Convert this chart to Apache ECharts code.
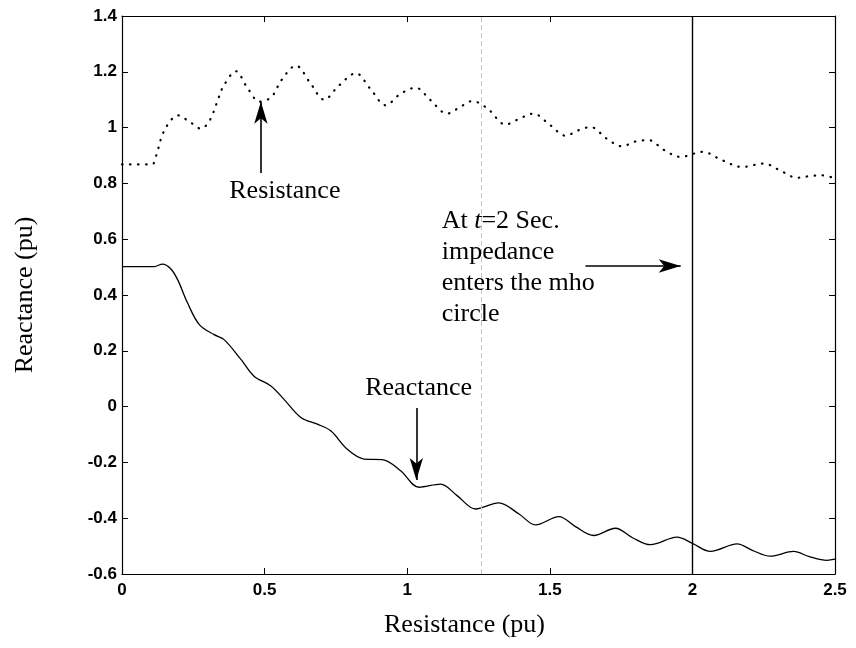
<!DOCTYPE html>
<html>
<head>
<meta charset="utf-8">
<script src="https://cdn.jsdelivr.net/npm/echarts@6/dist/echarts.min.js"></script>
<style>html,body{margin:0;padding:0;background:#fff}#c{width:856px;height:648px}</style>
</head>
<body>
<div id="c"></div>
<script>
// Dotted curve (upper trace)
const resistanceCurve = [
  [0,0.868],[0.05,0.868],[0.105,0.868],[0.12,0.90],[0.139,0.967],[0.16,1.01],[0.195,1.044],[0.238,1.02],
  [0.277,0.996],[0.308,1.027],[0.332,1.087],[0.355,1.147],[0.40,1.202],[0.437,1.147],[0.483,1.093],
  [0.524,1.11],[0.559,1.17],[0.61,1.222],[0.66,1.16],[0.709,1.10],[0.76,1.15],[0.82,1.195],[0.87,1.14],
  [0.925,1.08],[0.975,1.12],[1.03,1.143],[1.08,1.10],[1.14,1.05],[1.18,1.07],[1.228,1.095],[1.28,1.07],
  [1.345,1.011],[1.39,1.03],[1.442,1.05],[1.50,1.01],[1.555,0.971],[1.60,0.99],[1.643,1.002],[1.70,0.96],
  [1.753,0.933],[1.80,0.95],[1.847,0.955],[1.90,0.92],[1.958,0.895],[2.037,0.913],[2.10,0.885],
  [2.174,0.859],[2.25,0.871],[2.31,0.845],[2.367,0.82],[2.41,0.826],[2.454,0.829],[2.5,0.818]
];
// Solid curve (lower trace)
const reactanceCurve = [
  [0,0.502],[0.113,0.502],[0.142,0.511],[0.17,0.495],[0.195,0.455],[0.23,0.371],[0.271,0.294],
  [0.323,0.258],[0.358,0.24],[0.417,0.169],[0.463,0.109],[0.522,0.074],[0.568,0.026],[0.627,-0.039],
  [0.685,-0.063],[0.732,-0.087],[0.79,-0.153],[0.849,-0.188],[0.913,-0.19],[0.977,-0.23],[1.041,-0.289],
  [1.117,-0.278],[1.175,-0.319],[1.24,-0.367],[1.321,-0.345],[1.392,-0.385],[1.45,-0.424],[1.532,-0.394],
  [1.59,-0.43],[1.654,-0.462],[1.73,-0.436],[1.79,-0.47],[1.853,-0.495],[1.946,-0.468],[2.0,-0.49],
  [2.063,-0.519],[2.157,-0.492],[2.21,-0.515],[2.273,-0.536],[2.355,-0.519],[2.41,-0.538],[2.472,-0.551],
  [2.5,-0.547]
];
const xTicks = [0, 0.5, 1, 1.5, 2, 2.5];
const yTicks = [-0.6, -0.4, -0.2, 0, 0.2, 0.4, 0.6, 0.8, 1, 1.2, 1.4];
const entryTime = 2;
const annotationLines = ['At {i|t}=2 Sec.', 'impedance', 'enters the mho', 'circle'];
const annotationLineY = [0.665, 0.554, 0.443, 0.332];
const annotationX = 1.121;

const serif = "'Liberation Serif','Times New Roman',serif";
const sans = "'Liberation Sans',Arial,sans-serif";
const fmt = v => String(Math.round(v * 10) / 10);

const axisCommon = {
  axisLine: { show: true, onZero: false, lineStyle: { color: '#000', width: 1.2 } },
  axisTick: { show: true, inside: true, length: 6, lineStyle: { color: '#000' } },
  splitLine: { show: false }
};

const chart = echarts.init(document.getElementById('c'), null, { renderer: 'canvas' });
chart.setOption({
  animation: false,
  backgroundColor: '#fff',
  grid: { left: 122, right: 21, top: 16, bottom: 74, containLabel: false },
  xAxis: [
    Object.assign({
      type: 'value', min: xTicks[0], max: xTicks[xTicks.length - 1], interval: 0.5,
      name: 'Resistance (pu)', nameLocation: 'middle', nameGap: 38,
      nameTextStyle: { fontFamily: serif, fontSize: 26, color: '#000', padding: [0, 28, 0, 0] },
      axisLabel: { formatter: fmt, fontFamily: sans, fontWeight: 'bold', fontSize: 17, color: '#000', margin: 8 }
    }, axisCommon),
    Object.assign({
      type: 'value', position: 'top', min: xTicks[0], max: xTicks[xTicks.length - 1], interval: 0.5,
      axisLabel: { show: false }
    }, axisCommon)
  ],
  yAxis: [
    Object.assign({
      type: 'value', min: yTicks[0], max: yTicks[yTicks.length - 1], interval: 0.2,
      name: 'Reactance (pu)', nameLocation: 'middle', nameGap: 84,
      nameTextStyle: { fontFamily: serif, fontSize: 26, color: '#000' },
      axisLabel: { formatter: fmt, fontFamily: sans, fontWeight: 'bold', fontSize: 17, color: '#000', margin: 5 }
    }, axisCommon),
    Object.assign({
      type: 'value', position: 'right', min: yTicks[0], max: yTicks[yTicks.length - 1], interval: 0.2,
      axisLabel: { show: false }
    }, axisCommon)
  ],
  series: [
    {
      name: 'Resistance', type: 'line', data: resistanceCurve, showSymbol: false, smooth: 0.35,
      lineStyle: { color: '#000', width: 2.2, type: [0.5, 7.5], cap: 'round' }
    },
    {
      name: 'Reactance', type: 'line', data: reactanceCurve, showSymbol: false, smooth: 0.35,
      lineStyle: { color: '#000', width: 1.3 },
      markLine: {
        silent: true, animation: false, symbol: ['none', 'none'],
        label: { show: false },
        data: [
          { xAxis: entryTime, lineStyle: { color: '#000', width: 1.4, type: 'solid' } },
          { xAxis: 1.26, lineStyle: { color: '#c4c4c4', width: 1, type: [5, 3] } },
          [{ coord: [0.487, 0.837], symbol: 'none', lineStyle: { color: '#000', width: 1.6, type: 'solid' } },
           { coord: [0.487, 1.093], symbol: 'arrow', symbolSize: [10, 22] }],
          [{ coord: [1.032, -0.005], symbol: 'none', lineStyle: { color: '#000', width: 1.6, type: 'solid' } },
           { coord: [1.032, -0.263], symbol: 'arrow', symbolSize: [10, 22] }],
          [{ coord: [1.625, 0.504], symbol: 'none', lineStyle: { color: '#000', width: 1.6, type: 'solid' } },
           { coord: [1.959, 0.504], symbol: 'arrow', symbolSize: [10, 22] }]
        ]
      },
      markPoint: {
        silent: true, animation: false,
        symbol: 'circle', symbolSize: 1, itemStyle: { color: 'rgba(0,0,0,0)' },
        label: { show: true, position: 'inside', fontFamily: serif, fontSize: 26, color: '#000', verticalAlign: 'middle' },
        data: [
          { coord: [0.571, 0.773], value: 'Resistance', label: { formatter: 'Resistance', align: 'center' } },
          { coord: [1.040, 0.067], value: 'Reactance', label: { formatter: 'Reactance', align: 'center' } }
        ].concat(annotationLines.map((t, i) => ({
          coord: [annotationX, annotationLineY[i]], value: i,
          label: {
            formatter: t, align: 'left',
            rich: { i: { fontFamily: serif, fontSize: 26, fontStyle: 'italic', color: '#000' } }
          }
        })))
      }
    }
  ]
});
</script>
</body>
</html>
